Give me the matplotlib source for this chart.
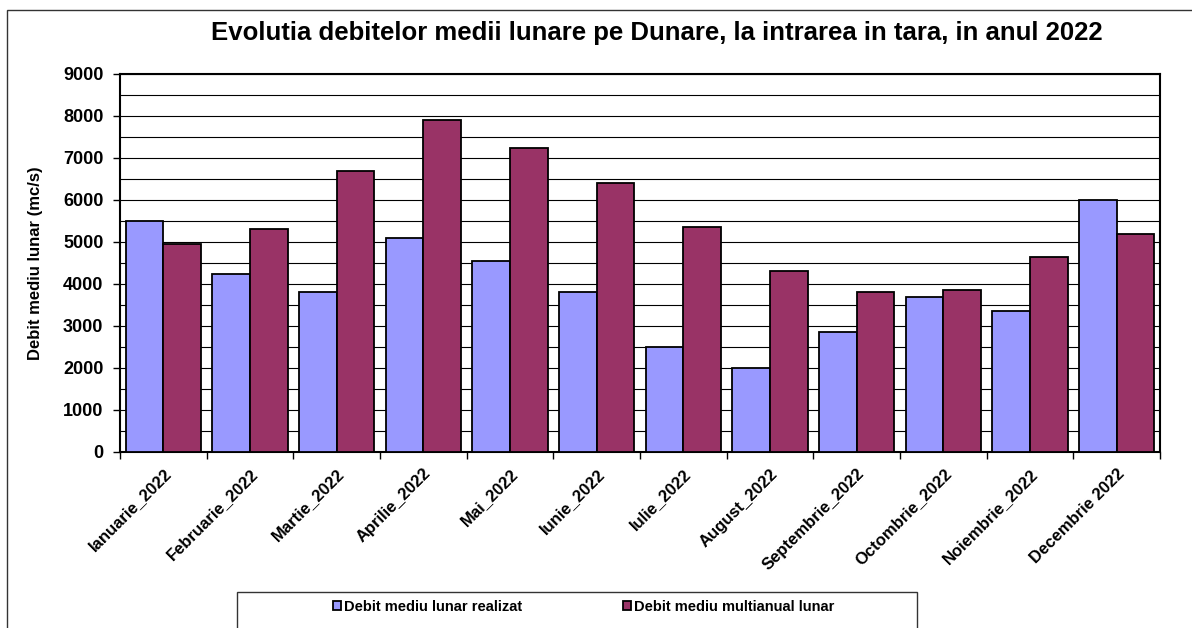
import matplotlib
matplotlib.use("Agg")
import matplotlib.pyplot as plt
import matplotlib.ticker as ticker
from matplotlib.patches import Rectangle
import numpy as np

plt.rcParams['font.family'] = ['Liberation Sans', 'DejaVu Sans']
plt.rcParams['font.weight'] = 'bold'

luni = ['Ianuarie_2022', 'Februarie_2022', 'Martie_2022', 'Aprilie_2022',
        'Mai_2022', 'Iunie_2022', 'Iulie_2022', 'August_2022',
        'Septembrie_2022', 'Octombrie_2022', 'Noiembrie_2022', 'Decembrie 2022']
realizat = [5500, 4250, 3800, 5100, 4550, 3800, 2500, 2000, 2850, 3700, 3350, 6000]
multianual = [4950, 5300, 6700, 7900, 7250, 6400, 5350, 4300, 3800, 3850, 4650, 5200]

lbl_realizat = 'Debit mediu lunar realizat'
lbl_multianual = 'Debit mediu multianual lunar'
col_realizat = '#9999FF'
col_multianual = '#993366'


def main():
    W, H = 1192, 628
    fig = plt.figure(figsize=(W / 100, H / 100), dpi=100)
    ax = fig.add_axes([120 / W, 1 - 452 / H, 1040 / W, 378 / H])

    x = np.arange(len(luni))
    w = 1 / 2.3
    b1 = ax.bar(x - w / 2, realizat, w, color=col_realizat, edgecolor='black',
                linewidth=1.3, label=lbl_realizat, zorder=3)
    b2 = ax.bar(x + w / 2, multianual, w, color=col_multianual, edgecolor='black',
                linewidth=1.3, label=lbl_multianual, zorder=3)

    ax.set_xlim(-0.5, len(luni) - 0.5)
    ax.set_ylim(0, 9000)
    ax.yaxis.set_major_locator(ticker.MultipleLocator(1000))
    ax.yaxis.set_minor_locator(ticker.MultipleLocator(500))
    ax.grid(axis='y', which='both', color='black', linewidth=0.8, zorder=0)
    ax.set_axisbelow(True)
    ax.tick_params(axis='y', which='major', length=5, width=1, labelsize=13, pad=7)
    ax.tick_params(axis='y', which='minor', length=0)

    # category boundaries as ticks, names at centers
    ax.set_xticks(np.arange(len(luni) + 1) - 0.5)
    ax.set_xticklabels([])
    ax.set_xticks(x, minor=True)
    ax.set_xticklabels(luni, minor=True, rotation=45, ha='right',
                       rotation_mode='anchor', fontsize=12, fontweight='bold')
    ax.tick_params(axis='x', which='major', length=5, width=1)
    ax.tick_params(axis='x', which='minor', length=0, pad=10)
    for lab in ax.get_yticklabels():
        lab.set_fontweight('bold')

    for s in ax.spines.values():
        s.set_linewidth(1.5)
        s.set_color('black')

    ax.set_ylabel('Debit mediu lunar (mc/s)', fontsize=12, fontweight='bold')
    ax.yaxis.set_label_coords(-77 / 1040, 0.5)

    fig.text(657 / W, 1 - 33 / H,
             'Evolutia debitelor medii lunare pe Dunare, la intrarea in tara, in anul 2022',
             ha='center', va='center', fontsize=18.5, fontweight='bold')

    # outer chart frame
    fig.patches.append(Rectangle((7.5 / W, -0.05), 1.1, 1 - 10 / H + 0.05,
                                 transform=fig.transFigure, fill=False,
                                 edgecolor='#333333', linewidth=1.0))
    # legend frame
    fig.patches.append(Rectangle((237 / W, -0.05), (917 - 237) / W, 1 - 592 / H + 0.05,
                                 transform=fig.transFigure, fill=False,
                                 edgecolor='#333333', linewidth=1.0))
    fig.legend(handles=[b1, b2], loc='center',
               bbox_to_anchor=((335 + 832) / 2 / W, 1 - 607 / H),
               ncol=2, frameon=False, handlelength=0.55,
               handleheight=0.55, handletextpad=0.2, columnspacing=6.9,
               prop={'weight': 'bold', 'size': 10.5})

    fig.savefig('out.png', dpi=100)


if __name__ == '__main__':
    main()
